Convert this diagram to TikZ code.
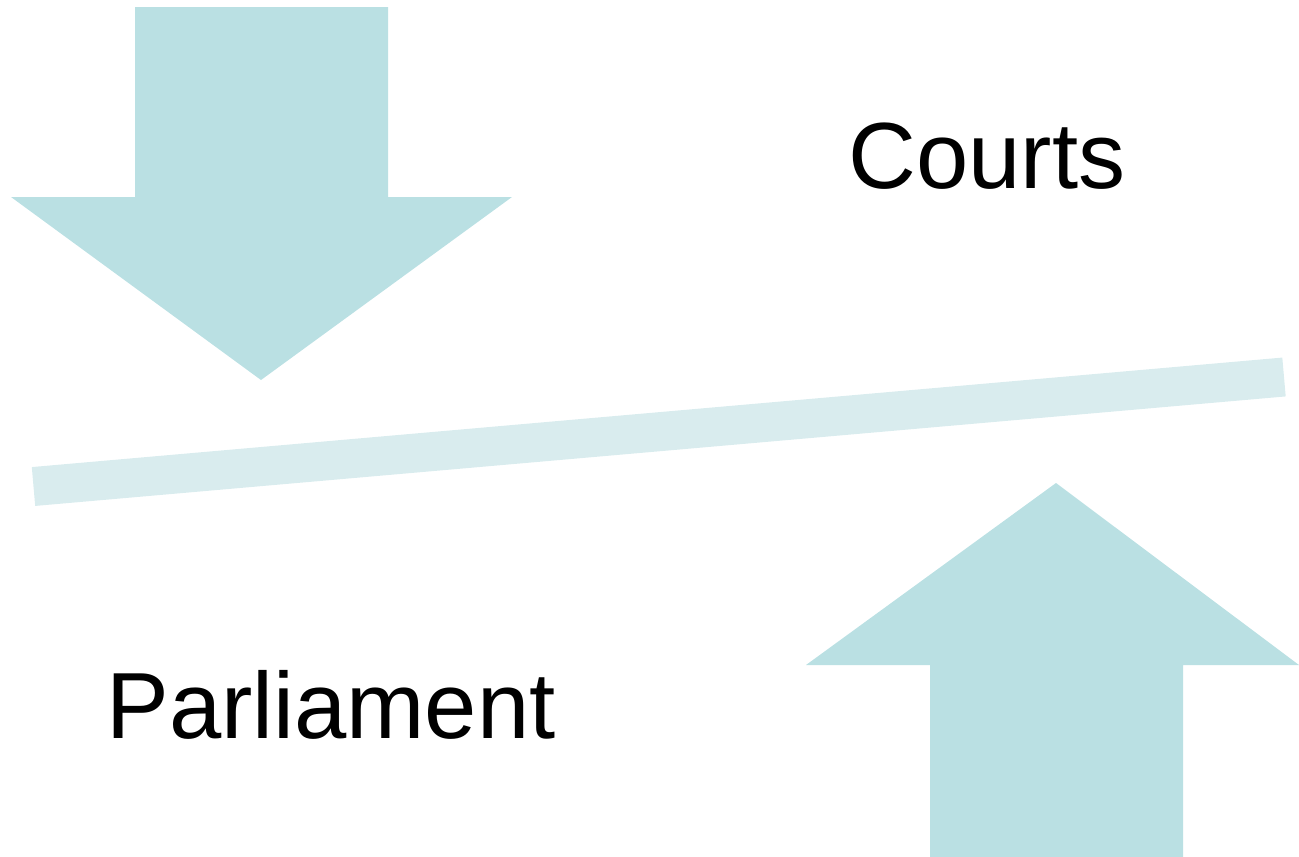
\documentclass[tikz,border=0pt]{standalone}
\usepackage{fontspec}
\setmainfont{Liberation Sans}
\definecolor{arrowc}{HTML}{BAE0E3}
\definecolor{barc}{HTML}{D9ECEE}
\begin{document}
\begin{tikzpicture}[x=1pt,y=-1pt,
  bigarrow/.style={fill=arrowc,draw=none},
  lbl/.style={font=\fontsize{94}{112}\selectfont,inner sep=0pt,anchor=base}]
\useasboundingbox (0,0) rectangle (1299,857);
\fill[bigarrow] (135,7) -- (388,7) -- (388,197) -- (512,197) -- (261,380) -- (11,197) -- (135,197) -- cycle;
\fill[bigarrow] (930,857) -- (1183,857) -- (1183,665) -- (1299,665) -- (1056,483) -- (806,665) -- (930,665) -- cycle;
\coordinate (bl) at (33.5,486.5);
\coordinate (br) at (1284,377);
\draw[barc,line width=39pt] (bl) -- (br);
\node[lbl] (courts) at (987,188) {Courts};
\node[lbl] (parl) at (331,738) {Parliament};
\end{tikzpicture}
\end{document}
